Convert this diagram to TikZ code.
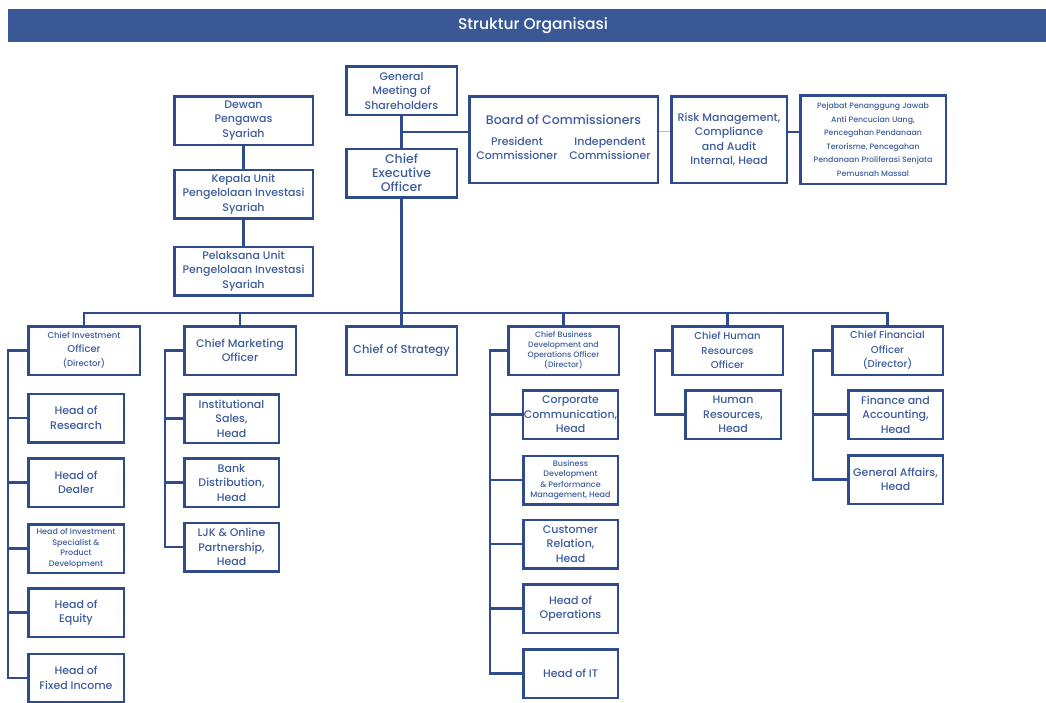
\documentclass[tikz,border=0pt]{standalone}
\usepackage{fontspec}
\IfFontExistsTF{Poppins Medium}{\setmainfont{Poppins Medium}}{\setmainfont{Poppins}}
\usepackage{xcolor}
\usepackage{tikz}
\usetikzlibrary{calc}
\definecolor{orgline}{HTML}{2E4B8B}
\definecolor{orgtext}{HTML}{3D5B9B}
\definecolor{orgbar}{HTML}{3A5896}
\definecolor{orggray}{HTML}{B9BDC7}

\begin{document}
\begin{tikzpicture}[x=1pt, y=-1pt,
		box/.style={draw=orgline, line width=2.5pt, text=orgtext, align=center, inner sep=1pt, minimum height=48.5pt, font=\fontsize{11}{14.5}\selectfont},
		small/.style={font=\fontsize{8}{10.5}\selectfont},
		big/.style={font=\fontsize{12.5}{14}\selectfont},
		wire/.style={draw=orgline, line width=2.5pt}]
		\useasboundingbox (0,0) rectangle (1046,702);
		\fill[orgbar] (8,9) rectangle (1046,42);
		\node[text=white, font=\fontsize{15.5}{17}\selectfont] (title) at (533,25.5) {Struktur Organisasi};

		\node[box, minimum width=110.5pt] (gms) at (401.5,90.5) {General\\Meeting of\\Shareholders};
		\node[box, big, minimum width=110.5pt] (ceo) at (401.5,173) {Chief\\Executive\\Officer};
		\node[box, minimum width=138.5pt] (dewan) at (243.5,120.5) {Dewan\\Pengawas\\Syariah};
		\node[box, minimum width=138.5pt] (kepala) at (243.5,194) {Kepala Unit\\Pengelolaan Investasi\\Syariah};
		\node[box, minimum width=138.5pt] (pelaksana) at (243.5,271) {Pelaksana Unit\\Pengelolaan Investasi\\Syariah};
		\node[box, minimum width=188.5pt, minimum height=86.5pt] (boc) at (563.5,139.5) {{\fontsize{12.5}{14}\selectfont Board of Commissioners}\\[9pt]
			\begin{tabular}{@{}c@{\hspace{12pt}}c@{}}President&Independent\\Commissioner&Commissioner\end{tabular}};
		\node[box, minimum width=115.5pt, minimum height=86.5pt] (risk) at (729,139.5) {Risk Management,\\Compliance\\and Audit\\Internal, Head};
		\node[box, small, minimum width=145.5pt, minimum height=88.5pt, font=\fontsize{7.8}{13.5}\selectfont] (pejabat) at (873,139.5) {Pejabat Penanggung Jawab\\Anti Pencucian Uang,\\Pencegahan Pendanaan\\Terorisme, Pencegahan\\Pendanaan Proliferasi Senjata\\Pemusnah Massal};

		\node[box, minimum width=111.5pt, font=\fontsize{8.5}{14}\selectfont] (cio) at (84,350.5) {Chief Investment\\{\fontsize{10}{14}\selectfont Officer}\\(Director)};
		\node[box, minimum width=111.5pt] (cmo) at (240,350.5) {Chief Marketing\\Officer};
		\node[box, minimum width=110.5pt, font=\fontsize{11.5}{14}\selectfont] (strategy) at (401.5,350.5) {Chief of Strategy};
		\node[box, small, minimum width=110.5pt, font=\fontsize{7.8}{10}\selectfont] (cbdo) at (563.5,350.5) {Chief Business\\Development and\\Operations Officer\\(Director)};
		\node[box, minimum width=110.5pt, font=\fontsize{10}{14.5}\selectfont] (chro) at (727.5,350.5) {Chief Human\\Resources\\Officer};
		\node[box, minimum width=110.5pt, font=\fontsize{10}{14.5}\selectfont] (cfo) at (887.5,350.5) {Chief Financial\\Officer\\(Director)};

		\node[box, minimum width=95.5pt] (research) at (76,418) {Head of\\Research};
		\node[box, minimum width=95.5pt] (dealer) at (76,482.5) {Head of\\Dealer};
		\node[box, small, minimum width=95.5pt] (specialist) at (76,548.5) {Head of Investment\\Specialist \&\\Product\\Development};
		\node[box, minimum width=95.5pt] (equity) at (76,612.5) {Head of\\Equity};
		\node[box, minimum width=95.5pt] (fixed) at (76,678) {Head of\\Fixed Income};

		\node[box, minimum width=94.5pt] (institutional) at (231.5,418.5) {Institutional\\Sales,\\Head};
		\node[box, minimum width=94.5pt] (bank) at (231.5,482.5) {Bank\\Distribution,\\Head};
		\node[box, minimum width=94.5pt] (ljk) at (231.5,547) {LJK \& Online\\Partnership,\\Head};

		\node[box, minimum width=94.5pt] (corporate) at (570.5,414.5) {Corporate\\Communication,\\Head};
		\node[box, small, minimum width=94.5pt] (bizdev) at (570.5,480) {Business\\Development\\\& Performance\\Management, Head};
		\node[box, minimum width=94.5pt] (customer) at (570.5,544) {Customer\\Relation,\\Head};
		\node[box, minimum width=94.5pt] (operations) at (570.5,608.5) {Head of\\Operations};
		\node[box, minimum width=94.5pt] (it) at (570.5,673.5) {Head of IT};

		\node[box, minimum width=95.5pt] (hr) at (733,414.5) {Human\\Resources,\\Head};

		\node[box, minimum width=94.5pt] (finance) at (895.5,414.5) {Finance and\\Accounting,\\Head};
		\node[box, minimum width=94.5pt] (general) at (895.5,479.5) {General Affairs,\\Head};

		\coordinate (joint) at ($(gms.south)!0.5!(ceo.north)$);
		\coordinate (bus) at (401.5,313);
		\draw[wire] (gms) -- (ceo);
		\draw[wire] (joint) -- (joint -| boc.west);
		\draw[orggray, line width=1pt] (joint -| boc.east) -- (joint -| risk.west);
		\draw[wire] (joint -| risk.east) -- (joint -| pejabat.west);
		\draw[wire] (dewan) -- (kepala) -- (pelaksana);
		\draw[wire] (ceo.south) -- (bus);
		\draw[wire] (cio.north) -- (cio.north |- bus) -- (cfo.north |- bus) -- (cfo.north);
		\foreach \n in {cmo,strategy,cbdo,chro}
			\draw[wire] (\n.north) -- (\n.north |- bus);

		\draw[wire] (cio.west) -- ++(-19,0) |- (fixed.west);
		\foreach \n in {research,dealer,specialist,equity}
			\draw[wire] (\n.west) -- ++(-19,0);
		\draw[wire] (cmo.west) -- ++(-18,0) |- (ljk.west);
		\foreach \n in {institutional,bank}
			\draw[wire] (\n.west) -- ++(-18,0);
		\draw[wire] (cbdo.west) -- ++(-17,0) |- (it.west);
		\foreach \n in {corporate,bizdev,customer,operations}
			\draw[wire] (\n.west) -- ++(-32,0);
		\draw[wire] (chro.west) -- ++(-16,0) |- (hr.west);
		\draw[wire] (cfo.west) -- ++(-18,0) |- (general.west);
		\draw[wire] (finance.west) -- ++(-34,0);
	\end{tikzpicture}
\end{document}
